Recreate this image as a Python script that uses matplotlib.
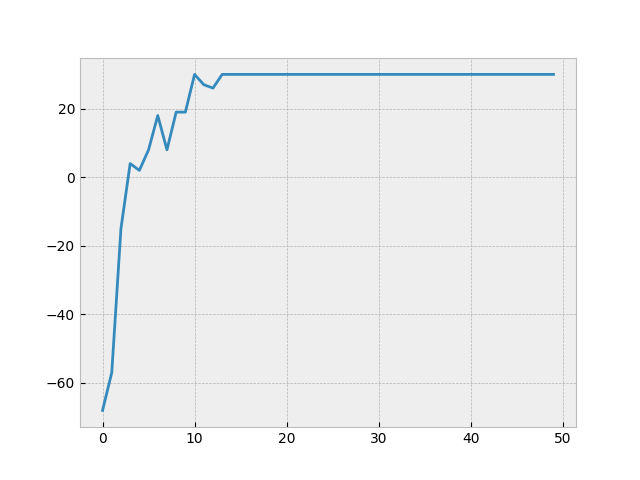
import matplotlib
matplotlib.use('Agg')
import matplotlib.pyplot as plt

plt.style.use('bmh')

steps = list(range(50))
head = [-68, -57, -15, 4, 2, 8, 18, 8, 19, 19, 30, 27, 26]
values = head + [30] * (50 - len(head))

fig, ax = plt.subplots(figsize=(6.4, 4.8), dpi=100)
ax.plot(steps, values)
fig.savefig('out.png')
